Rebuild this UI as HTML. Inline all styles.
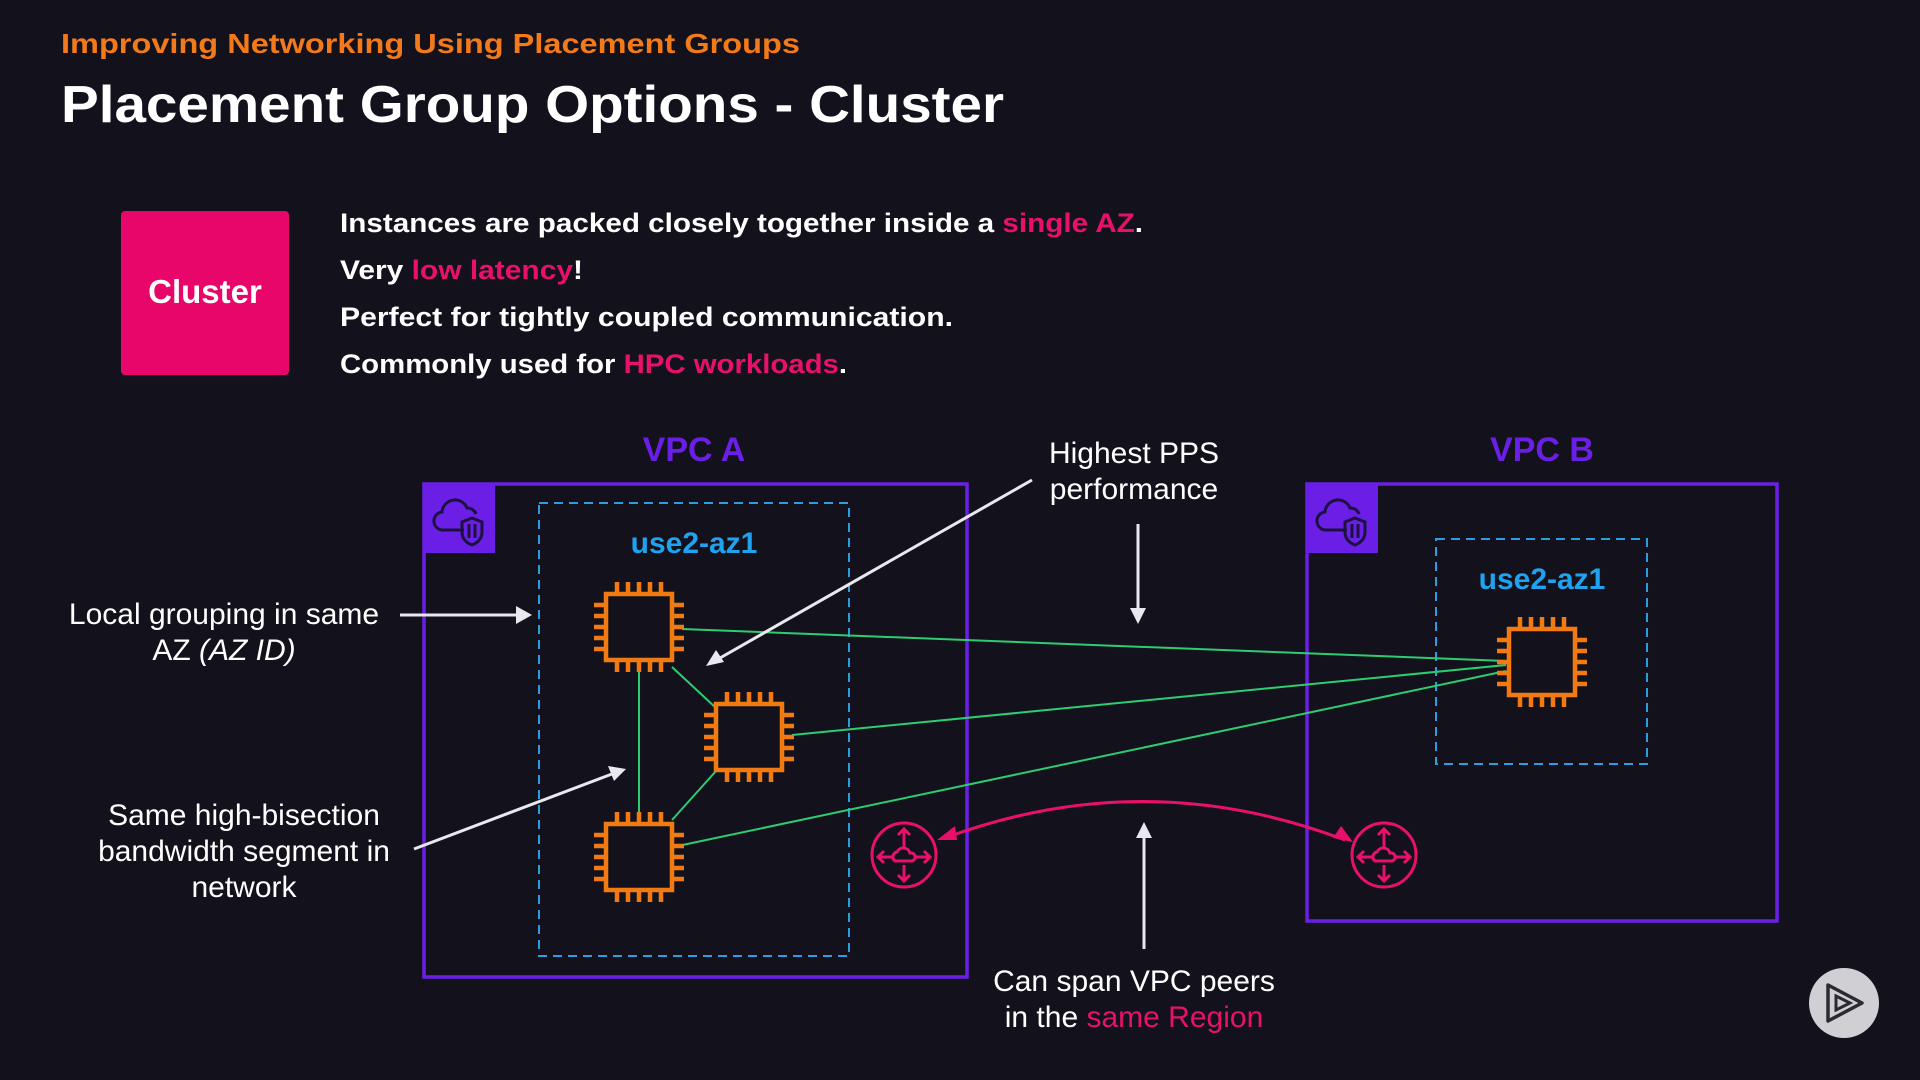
<!DOCTYPE html>
<html><head><meta charset="utf-8"><style>
html,body{margin:0;padding:0;background:#13121c;}
svg{display:block}
text{font-family:"Liberation Sans",sans-serif;}
</style></head><body>
<svg width="1920" height="1080" viewBox="0 0 1920 1080" xmlns="http://www.w3.org/2000/svg">
<defs>
<g id="chip" fill="none" stroke="#f27a12" stroke-width="4.5">
<rect x="-33" y="-33" width="66" height="66"/>
<path d="M-22,-33v-12M-11,-33v-12M0,-33v-12M11,-33v-12M22,-33v-12M-22,33v12M-11,33v12M0,33v12M11,33v12M22,33v12M-33,-22h-12M-33,-11h-12M-33,0h-12M-33,11h-12M-33,22h-12M33,-22h12M33,-11h12M33,0h12M33,11h12M33,22h12"/>
</g>
<g id="router" fill="none" stroke="#e8106a" stroke-width="3">
<circle r="32"/>
<path d="M0,-6v-20M-6,-20l6,-6l6,6M0,10v16M-6,20l6,6l6,-6M-10,2h-16M-20,-4l-6,6l6,6M10,2h16M20,-4l6,6l-6,6"/>
<path d="M-9,6a5,5 0 0 1 2,-9a7,7 0 0 1 13,1a4,4 0 0 1 2,8z"/>
</g>
<g id="vpcicon">
<rect width="71" height="69" fill="#6b1fe6"/>
<g fill="none" stroke="#1c1240" stroke-width="3">
<path d="M40,46H20a9,9 0 0 1 -2,-18a13,13 0 0 1 25,-4a9,9 0 0 1 9,6"/>
<path d="M48,34l10,4v10c0,7 -5,11 -10,13c-5,-2 -10,-6 -10,-13v-10z"/>
<path d="M45,40v14M51,40v14"/>
</g>
</g>
</defs>
<rect width="1920" height="1080" fill="#13121c"/>
<text x="61" y="53" font-size="28" font-weight="bold" fill="#f27a1a" textLength="739" lengthAdjust="spacingAndGlyphs">Improving Networking Using Placement Groups</text>
<text x="61" y="122" font-size="52" font-weight="bold" fill="#ffffff" textLength="943" lengthAdjust="spacingAndGlyphs">Placement Group Options - Cluster</text>
<rect x="121" y="211" width="168" height="164" rx="4" fill="#e8066a"/>
<text x="205" y="303" font-size="33" font-weight="bold" fill="#fff" text-anchor="middle">Cluster</text>
<g font-size="27" font-weight="bold" fill="#fff">
<text x="340" y="232" textLength="803" lengthAdjust="spacingAndGlyphs">Instances are packed closely together inside a <tspan fill="#e8106a">single AZ</tspan>.</text>
<text x="340" y="279" textLength="243" lengthAdjust="spacingAndGlyphs">Very <tspan fill="#e8106a">low latency</tspan>!</text>
<text x="340" y="326" textLength="613" lengthAdjust="spacingAndGlyphs">Perfect for tightly coupled communication.</text>
<text x="340" y="373" textLength="507" lengthAdjust="spacingAndGlyphs">Commonly used for <tspan fill="#e8106a">HPC workloads</tspan>.</text>
</g>
<g font-size="34" font-weight="bold" fill="#6a1fe6" text-anchor="middle">
<text x="694" y="461">VPC A</text>
<text x="1542" y="461">VPC B</text>
</g>
<rect x="424" y="484" width="543" height="493" fill="none" stroke="#6b1fe6" stroke-width="3.5"/>
<rect x="1307" y="484" width="470" height="437" fill="none" stroke="#6b1fe6" stroke-width="3.5"/>
<use href="#vpcicon" x="424" y="484"/>
<use href="#vpcicon" x="1307" y="484"/>
<rect x="539" y="503" width="310" height="453" fill="none" stroke="#2a9fe0" stroke-width="2" stroke-dasharray="9,6"/>
<rect x="1436" y="539" width="211" height="225" fill="none" stroke="#2a9fe0" stroke-width="2" stroke-dasharray="9,6"/>
<g font-size="30" font-weight="bold" fill="#1fa3f0" text-anchor="middle">
<text x="694" y="553">use2-az1</text>
<text x="1542" y="589">use2-az1</text>
</g>
<g stroke="#2ecc71" stroke-width="2" fill="none">
<path d="M682,629L1506,661M792,735L1506,665M673,847L1506,671M672,667L716,708M639,668V816M716,771L672,820"/>
</g>
<use href="#chip" x="639" y="627"/>
<use href="#chip" x="749" y="737"/>
<use href="#chip" x="639" y="857"/>
<use href="#chip" x="1542" y="662"/>
<use href="#router" x="904" y="855"/>
<use href="#router" x="1384" y="855"/>
<path d="M945,838Q1145,764 1345,840" fill="none" stroke="#e8106a" stroke-width="3"/>
<path d="M937,840l18,-14l2,14z" fill="#e8106a"/>
<path d="M1353,842l-20,-4l8,-12z" fill="#e8106a"/>
<g stroke="#e8e8ee" stroke-width="3" fill="none">
<path d="M400,615H518M1032,480L720,658M1138,524V608M414,849L612,774M1144,949V836"/>
</g>
<g fill="#e8e8ee">
<path d="M532,615l-16,-9v18z"/>
<path d="M706,666l10,-16l8,12z"/>
<path d="M1138,624l-8,-16h16z"/>
<path d="M626,769l-18,-3l6,15z"/>
<path d="M1144,822l-8,16h16z"/>
</g>
<g font-size="30" fill="#fff" text-anchor="middle">
<text x="224" y="624">Local grouping in same</text>
<text x="224" y="660">AZ <tspan font-style="italic">(AZ ID)</tspan></text>
<text x="1134" y="463">Highest PPS</text>
<text x="1134" y="499">performance</text>
<text x="244" y="825">Same high-bisection</text>
<text x="244" y="861">bandwidth segment in</text>
<text x="244" y="897">network</text>
<text x="1134" y="991">Can span VPC peers</text>
<text x="1134" y="1027">in the <tspan fill="#e8106a">same Region</tspan></text>
</g>
<circle cx="1844" cy="1003" r="35" fill="#cfcfd4"/>
<path d="M1828,985L1862,1003L1828,1021z" fill="none" stroke="#2a2a33" stroke-width="3.5" stroke-linejoin="round"/>
<path d="M1836,996L1850,1003L1836,1010z" fill="none" stroke="#2a2a33" stroke-width="3"/>
</svg>
</body></html>
